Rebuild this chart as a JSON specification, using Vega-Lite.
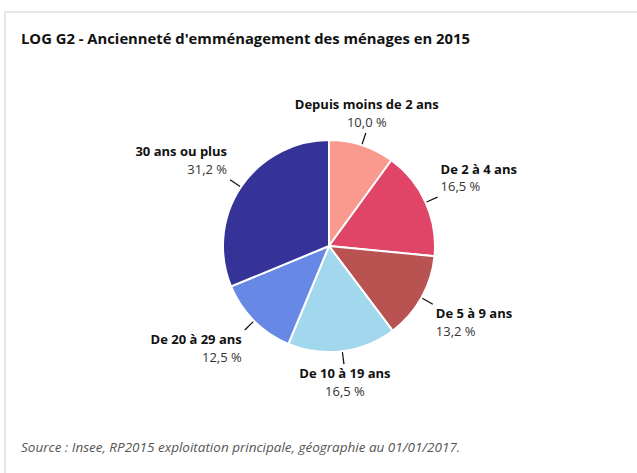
{
  "$schema": "https://vega.github.io/schema/vega-lite/v6.json",
  "width": 648,
  "height": 468,
  "autosize": "none",
  "padding": {"left": 5, "top": 12, "right": 0, "bottom": 0},
  "background": "white",
  "view": {"stroke": "#e6e6e6", "strokeWidth": 2},
  "title": {
    "text": "LOG G2 - Ancienneté d'emménagement des ménages en 2015",
    "subtitle": "Source : Insee, RP2015 exploitation principale, géographie au 01/01/2017.",
    "anchor": "start",
    "frame": "group",
    "orient": "top",
    "offset": -442,
    "dx": 16,
    "font": "Open Sans",
    "fontSize": 14.8,
    "fontWeight": "bold",
    "color": "#111111",
    "subtitleFont": "Open Sans",
    "subtitleFontSize": 13.5,
    "subtitleFontStyle": "italic",
    "subtitleColor": "#555555",
    "subtitlePadding": 394
  },
  "data": {
    "values": [
      {"ord": 1, "label": "Depuis moins de 2 ans", "value": 10.0},
      {"ord": 2, "label": "De 2 à 4 ans", "value": 16.5},
      {"ord": 3, "label": "De 5 à 9 ans", "value": 13.2},
      {"ord": 4, "label": "De 10 à 19 ans", "value": 16.5},
      {"ord": 5, "label": "De 20 à 29 ans", "value": 12.5},
      {"ord": 6, "label": "30 ans ou plus", "value": 31.2}
    ]
  },
  "transform": [
    {"window": [{"op": "sum", "field": "value", "as": "cum"}], "sort": [{"field": "ord"}], "frame": [null, 0]},
    {"joinaggregate": [{"op": "sum", "field": "value", "as": "total"}]},
    {"calculate": "(datum.cum - datum.value / 2) / datum.total * 2 * PI", "as": "mid"},
    {"calculate": "datum.mid - 0.0055", "as": "lo"},
    {"calculate": "datum.mid + 0.0055", "as": "hi"},
    {"calculate": "replace(format(datum.value, '.1f'), '.', ',') + ' %'", "as": "pct"}
  ],
  "layer": [
    {
      "mark": {"type": "arc", "outerRadius": 106, "stroke": "white", "strokeWidth": 2},
      "encoding": {
        "theta": {"field": "value", "type": "quantitative", "stack": true},
        "order": {"field": "ord", "type": "quantitative"},
        "color": {
          "field": "label",
          "type": "nominal",
          "legend": null,
          "scale": {
            "domain": ["Depuis moins de 2 ans", "De 2 à 4 ans", "De 5 à 9 ans", "De 10 à 19 ans", "De 20 à 29 ans", "30 ans ou plus"],
            "range": ["#FA9A8F", "#E04466", "#B85352", "#A2D8EE", "#6888E5", "#353398"]
          }
        }
      }
    },
    {
      "mark": {"type": "arc", "radius": 107, "radius2": 119, "color": "#111111"},
      "encoding": {
        "theta": {"field": "lo", "type": "quantitative", "scale": null, "stack": null},
        "theta2": {"field": "hi"}
      }
    },
    {
      "mark": {
        "type": "text",
        "font": "Open Sans",
        "fontSize": 13,
        "fontWeight": "bold",
        "color": "#111111",
        "baseline": "middle",
        "align": {"expr": "sin(datum.mid) > 0.5 ? 'left' : (sin(datum.mid) < -0.5 ? 'right' : 'center')"},
        "dx": {"expr": "sin(datum.mid) > 0.5 ? 3 : (sin(datum.mid) < -0.5 ? -3 : 1)"},
        "dy": {"expr": "cos(datum.mid) > 0 ? -27.5 : 10"}
      },
      "encoding": {
        "theta": {"field": "mid", "type": "quantitative", "scale": null, "stack": null},
        "radius": {"value": 119},
        "text": {"field": "label"}
      }
    },
    {
      "mark": {
        "type": "text",
        "font": "Open Sans",
        "fontSize": 13,
        "color": "#333333",
        "baseline": "middle",
        "align": {"expr": "sin(datum.mid) > 0.5 ? 'left' : (sin(datum.mid) < -0.5 ? 'right' : 'center')"},
        "dx": {"expr": "sin(datum.mid) > 0.5 ? 3 : (sin(datum.mid) < -0.5 ? -3 : 1)"},
        "dy": {"expr": "cos(datum.mid) > 0 ? -10 : 27.5"}
      },
      "encoding": {
        "theta": {"field": "mid", "type": "quantitative", "scale": null, "stack": null},
        "radius": {"value": 119},
        "text": {"field": "pct"}
      }
    }
  ]
}
